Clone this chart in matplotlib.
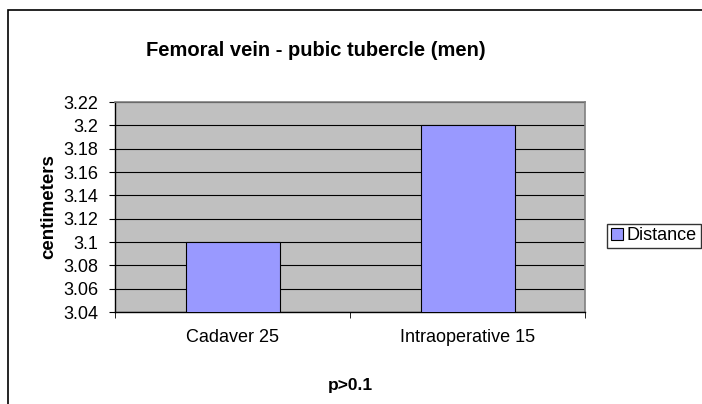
import matplotlib
matplotlib.use("Agg")
import matplotlib.pyplot as plt
from matplotlib.patches import Rectangle, Patch

plt.rcParams['font.family'] = ['Liberation Sans', 'DejaVu Sans']

# data
categories = ["Cadaver 25", "Intraoperative 15"]
distance = [3.10, 3.20]
y_ticks = [3.04, 3.06, 3.08, 3.10, 3.12, 3.14, 3.16, 3.18, 3.20, 3.22]
y_tick_labels = ["3.04", "3.06", "3.08", "3.1", "3.12", "3.14", "3.16", "3.18", "3.2", "3.22"]

W, H = 702, 404
fig = plt.figure(figsize=(W / 100, H / 100), dpi=100)
fig.patch.set_facecolor("white")

# outer chart border (right/bottom run off the picture)
fig.patches.append(Rectangle((8 / W, -0.05), 1.2, 1 - 10 / H + 0.05,
                             transform=fig.transFigure, fill=False,
                             edgecolor="black", linewidth=1.2))

ax = fig.add_axes([115 / W, 1 - 312 / H, 470 / W, 210 / H])
ax.set_facecolor("#C0C0C0")

x = list(range(len(categories)))
ax.bar(x, distance, width=0.4, color="#9999FF", edgecolor="black",
       linewidth=0.8, zorder=3)

ax.set_xlim(-0.5, len(categories) - 0.5)
ax.set_ylim(3.04, 3.22)
ax.set_yticks(y_ticks)
ax.set_yticklabels(y_tick_labels, fontsize=13)
ax.set_xticks(x)
ax.set_xticklabels(categories, fontsize=13)
ax.set_xticks([-0.5, 0.5, 1.5], minor=True)
ax.tick_params(axis="x", which="major", length=0, pad=12)
ax.tick_params(axis="x", which="minor", length=4, direction="out", color="black")
ax.tick_params(axis="y", length=4, direction="out", color="black", pad=8)

ax.grid(axis="y", color="black", linewidth=0.8, zorder=1)
ax.set_axisbelow(True)

for side in ["top", "right"]:
    ax.spines[side].set_color("#808080")
    ax.spines[side].set_linewidth(1.2)
for side in ["left", "bottom"]:
    ax.spines[side].set_color("black")
    ax.spines[side].set_linewidth(1.0)

ax.set_xlabel("p>0.1", fontsize=12.5, fontweight="bold", labelpad=23)
ax.set_ylabel("centimeters", fontsize=13.5, fontweight="bold", labelpad=4)

fig.text(316 / W, 1 - 50 / H, "Femoral vein - pubic tubercle (men)",
         ha="center", va="center", fontsize=14.5, fontweight="bold")

leg = fig.legend(handles=[Patch(facecolor="#9999FF", edgecolor="black", linewidth=0.8)],
                 labels=["Distance"], loc="center left",
                 bbox_to_anchor=(607 / W, 1 - 236 / H), fontsize=13,
                 frameon=True, fancybox=False, borderpad=0.2, borderaxespad=0,
                 handlelength=0.7, handleheight=0.7, handletextpad=0.2)
leg.get_frame().set_edgecolor("black")
leg.get_frame().set_linewidth(1.0)

fig.savefig("out.png", dpi=100)
